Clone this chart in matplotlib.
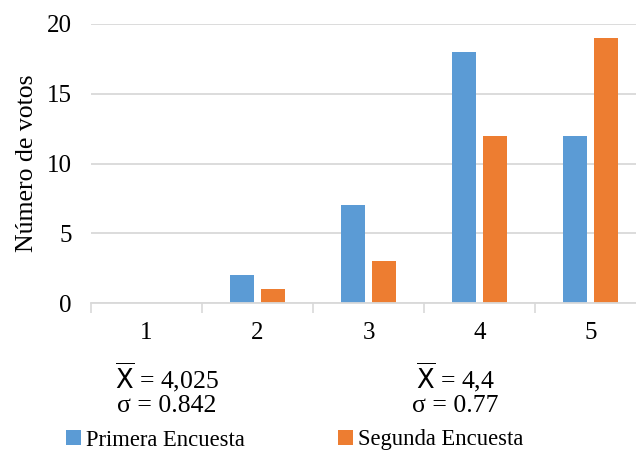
import numpy as np
import matplotlib.pyplot as plt

plt.rcParams['font.family'] = ['Liberation Serif', 'DejaVu Sans']
plt.rcParams['mathtext.fontset'] = 'custom'
plt.rcParams['mathtext.sf'] = 'DejaVu Sans'
plt.rcParams['mathtext.rm'] = 'Liberation Serif'

# votos por calificacion
categorias = ['1', '2', '3', '4', '5']
primera = [0, 2, 7, 18, 12]
segunda = [0, 1, 3, 12, 19]
series = ['Primera Encuesta', 'Segunda Encuesta']
media = ['4,025', '4,4']
sigma = ['0.842', '0.77']

azul = '#5B9BD5'
naranja = '#ED7D31'
gris = '#D9D9D9'

fig = plt.figure(figsize=(6.36, 4.53), dpi=100)
ax = fig.add_axes([91/636, 150/453, 545/636, 279/453])

x = np.arange(1, len(categorias) + 1)
ancho = 0.216
ax.bar(x - 0.14, primera, ancho, color=azul, label=series[0], zorder=3)
ax.bar(x + 0.14, segunda, ancho, color=naranja, label=series[1], zorder=3)

ax.set_yticks([0, 5, 10, 15, 20])
ax.set_xticks(x)
ax.set_xticklabels(categorias)
ax.set_xticks(np.arange(0.5, 6, 1), minor=True)
# limites despues de los ticks para que no se expandan
ax.set_xlim(0.5, 0.5 + 545/111)
ax.set_ylim(0, 20)
ax.tick_params(axis='x', which='major', length=0, pad=14, labelsize=18)
ax.tick_params(axis='x', which='minor', length=7, width=1.2, color=gris)
ax.tick_params(axis='y', length=0, pad=14, labelsize=18)

ax.grid(axis='y', color=gris, linewidth=1.3, zorder=0)
for lado in ['top', 'right', 'left']:
    ax.spines[lado].set_visible(False)
ax.spines['bottom'].set_color(gris)
ax.spines['bottom'].set_linewidth(1.3)
ax.spines['bottom'].set_zorder(4)

ax.set_ylabel('Número de votos', fontsize=18.5, labelpad=6)

# medias y desviaciones de cada encuesta
for xc, m, s in zip([167/636, 455/636], media, sigma):
    fig.text(xc, 1 - 377/453, r'$\overline{\mathsf{X}}$ = ' + m, ha='center', va='center', fontsize=18.5)
    fig.text(xc, 1 - 406/453, 'σ = ' + s, ha='center', va='center', fontsize=18.5)

fig.legend(loc='center left', bbox_to_anchor=(66/636, 1 - 440/453), ncol=2, frameon=False,
           fontsize=16.3, handlelength=0.65, handleheight=0.65, handletextpad=0.25,
           columnspacing=4.1, borderpad=0, borderaxespad=0)

fig.savefig('out.png', dpi=100)
